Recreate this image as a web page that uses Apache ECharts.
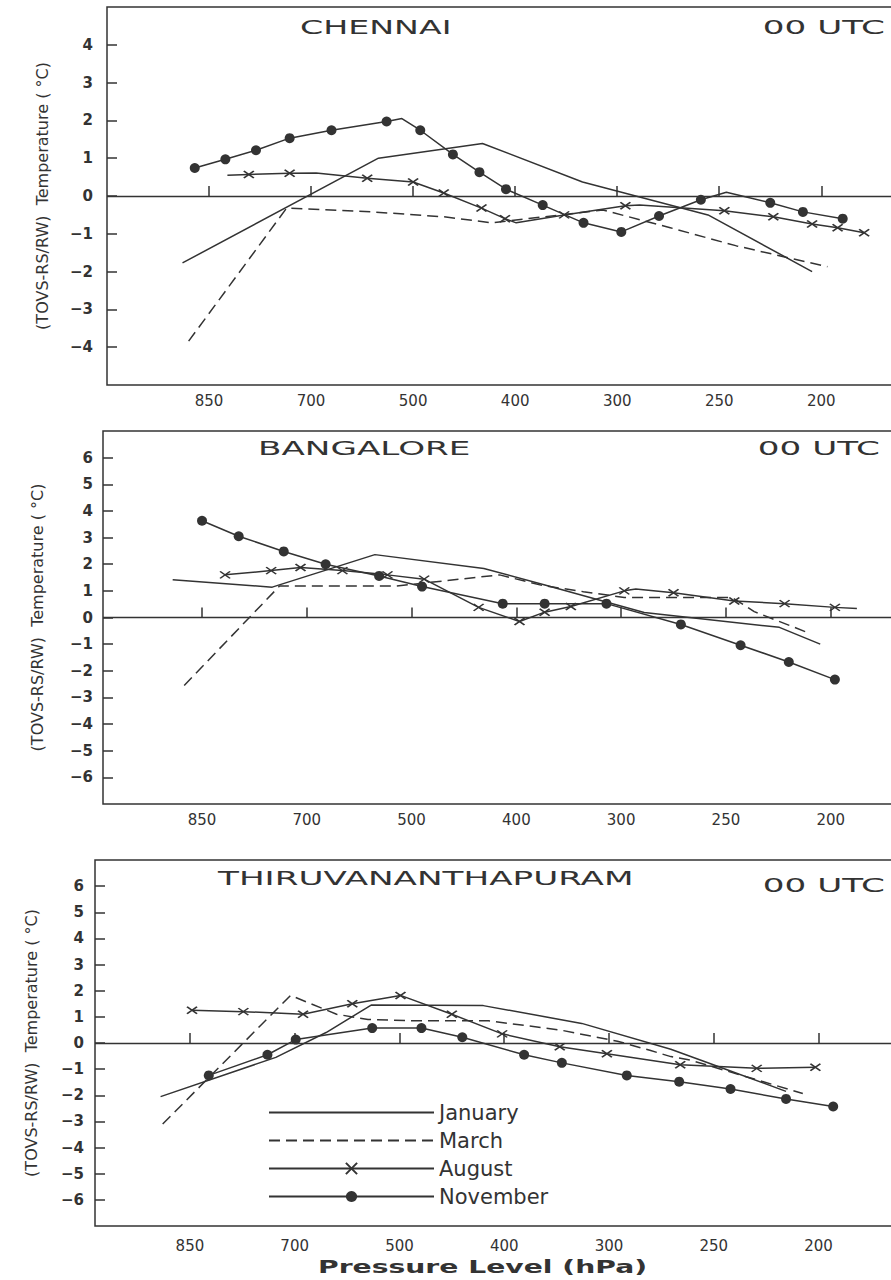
<!DOCTYPE html>
<html><head><meta charset="utf-8">
<script src="https://cdn.jsdelivr.net/npm/echarts@6/dist/echarts.min.js"></script>
<style>html,body{margin:0;padding:0;background:#fff}#c{width:891px;height:1280px}</style>
</head><body><div id="c"></div>
<script>
// ---------- data ----------
const pressureLabels = ['850', '700', '500', '400', '300', '250', '200'];
const pressurePositions = [1, 2, 3, 4, 5, 6, 7];
const months = ['January', 'March', 'August', 'November'];
const stations = ['CHENNAI', 'BANGALORE', 'THIRUVANANTHAPURAM'];
const utcLabel = '00 UTC';
const yAxisTitle = '(TOVS-RS/RW)  Temperature ( °C)';
const xAxisTitle = 'Pressure Level (hPa)';
const yTicksChennai = [-4, -3, -2, -1, 0, 1, 2, 3, 4];
const yTicksOther = [-6, -5, -4, -3, -2, -1, 0, 1, 2, 3, 4, 5, 6];

// [pressure-axis position (850=1 ... 200=7), TOVS - RS/RW (°C), 0 = bend without marker]
const chennaiJanuary = [[0.74,-1.77],[2.66,1.0],[3.68,1.39],[4.66,0.37],[5.89,-0.5],[6.91,-2.0]];
const chennaiMarch = [[0.8,-3.84],[1.76,-0.32],[2.6,-0.42],[3.3,-0.55],[3.77,-0.71],[4.86,-0.37],[5.52,-0.84],[6.17,-1.32],[7.06,-1.87]];
const chennaiAugust = [[1.18,0.55,0],[1.39,0.57],[1.79,0.6],[2.05,0.61,0],[2.55,0.47],[3.0,0.37],[3.3,0.08],[3.67,-0.32],[3.9,-0.6],[4.01,-0.71,0],[4.48,-0.5],[5.08,-0.26],[5.22,-0.24,0],[6.05,-0.39],[6.53,-0.55],[6.91,-0.74],[7.16,-0.84],[7.42,-0.97]];
const chennaiNovember = [[0.86,0.74],[1.16,0.97],[1.46,1.21],[1.79,1.53],[2.2,1.74],[2.74,1.97],[2.89,2.05,0],[3.07,1.74],[3.39,1.1],[3.65,0.63],[3.91,0.18],[4.27,-0.24],[4.67,-0.71],[5.04,-0.95],[5.41,-0.53],[5.82,-0.1],[6.07,0.1,0],[6.5,-0.18],[6.82,-0.42],[7.21,-0.6]];

const bangaloreJanuary = [[0.72,1.42],[1.67,1.14],[2.65,2.36],[3.69,1.84],[4.29,1.2],[5.22,0.19],[6.51,-0.37],[6.9,-1.0]];
const bangaloreMarch = [[0.83,-2.55],[1.74,1.18],[2.85,1.18],[3.84,1.6],[4.25,1.2],[4.64,0.97],[5.03,0.75],[6.06,0.75],[6.27,0.22],[6.77,-0.55]];
const bangaloreAugust = [[1.22,1.6],[1.66,1.76],[1.94,1.88],[2.34,1.76],[2.77,1.6],[3.12,1.44],[3.64,0.38],[4.03,-0.15],[4.27,0.2],[4.52,0.41],[5.03,1.0],[5.14,1.07,0],[5.5,0.93],[6.08,0.62],[6.56,0.52],[7.04,0.38],[7.25,0.34,0]];
const bangaloreNovember = [[1.0,3.63],[1.35,3.05],[1.78,2.48],[2.18,2.0],[2.69,1.56],[3.1,1.16],[3.87,0.52],[4.27,0.52],[4.86,0.52],[5.57,-0.26],[6.14,-1.04],[6.6,-1.67],[7.04,-2.33]];

const thiruJanuary = [[0.72,-2.05],[1.82,-0.55],[2.3,0.4],[2.73,1.45],[3.8,1.43],[4.74,0.75],[5.59,-0.24],[6.14,-1.04],[6.69,-1.85]];
const thiruMarch = [[0.74,-3.1],[1.96,1.82],[2.4,1.1],[2.7,0.9],[3.16,0.85],[3.85,0.85],[4.53,0.5],[5.08,0.07],[5.39,-0.28],[5.59,-0.52],[5.78,-0.66],[6.85,-1.93]];
const thiruAugust = [[1.02,1.25],[1.51,1.2],[2.08,1.1],[2.55,1.5],[3.01,1.82],[3.5,1.1],[3.98,0.35],[4.53,-0.14],[4.98,-0.41],[5.68,-0.83],[6.41,-0.97],[6.97,-0.93]];
const thiruNovember = [[1.18,-1.24],[1.74,-0.45],[2.01,0.13],[2.74,0.57],[3.21,0.57],[3.6,0.22],[4.19,-0.45],[4.55,-0.76],[5.17,-1.24],[5.67,-1.48],[6.16,-1.76],[6.69,-2.14],[7.14,-2.43]];

const stationSeries = [
  [chennaiJanuary, chennaiMarch, chennaiAugust, chennaiNovember],
  [bangaloreJanuary, bangaloreMarch, bangaloreAugust, bangaloreNovember],
  [thiruJanuary, thiruMarch, thiruAugust, thiruNovember]
];

// ---------- layout / style ----------
const INK = '#333';
const FONT = '"DejaVu Sans", sans-serif';
const panels = [
  { left: 107, top: 7,   height: 378, xMin: 0,     xMax: 7.84, yMin: -5, yMax: 5, yTicks: yTicksChennai, labelMargin: 8,  yLabelMargin: 14, nameGap: 57 },
  { left: 103, top: 431, height: 373, xMin: 0.055, xMax: 7.69, yMin: -7, yMax: 7, yTicks: yTicksOther,   labelMargin: 8,  yLabelMargin: 10, nameGap: 58 },
  { left: 95,  top: 860, height: 366, xMin: 0.094, xMax: 7.73, yMin: -7, yMax: 7, yTicks: yTicksOther,   labelMargin: 12, yLabelMargin: 11, nameGap: 56 }
];
const monthStyle = {
  January:  { type: 'solid', symbol: 'none' },
  March:    { type: [11, 6], symbol: 'none' },
  August:   { type: 'solid', symbol: 'path://M0,0L10,7M10,0L0,7', symbolSize: [10, 7] },
  November: { type: 'solid', symbol: 'circle', symbolSize: 10 }
};

const grids = [], xAxes = [], yAxes = [], series = [];
panels.forEach((p, i) => {
  grids.push({ left: p.left, top: p.top, width: 800, height: p.height, show: true,
    borderColor: INK, borderWidth: 1.5, outerBoundsMode: 'none', containLabel: false });
  xAxes.push({
    gridIndex: i, type: 'value', min: p.xMin, max: p.xMax,
    axisLine: { show: false }, splitLine: { show: false },
    axisTick: { show: true, inside: true, length: 10, customValues: pressurePositions, lineStyle: { color: INK, width: 1.5 } },
    axisLabel: { customValues: pressurePositions, margin: p.labelMargin, color: INK, fontSize: 15, fontFamily: FONT,
      formatter: v => pressureLabels[pressurePositions.indexOf(Math.round(v))] },
  });
  yAxes.push({
    gridIndex: i, type: 'value', min: p.yMin, max: p.yMax,
    name: yAxisTitle, nameLocation: 'middle', nameGap: p.nameGap,
    nameTextStyle: { color: INK, fontSize: 16, fontFamily: FONT },
    axisLine: { show: false }, splitLine: { show: false },
    axisTick: { show: true, inside: true, length: 10, customValues: p.yTicks, lineStyle: { color: INK, width: 1.5 } },
    axisLabel: { customValues: p.yTicks, margin: p.yLabelMargin, color: INK, fontSize: 15, fontWeight: 'bold', fontFamily: FONT,
      formatter: v => (v < 0 ? '\u2212' + Math.abs(v) : String(v)) }
  });
  months.forEach((m, k) => {
    const st = monthStyle[m];
    const s = {
      name: m, type: 'line', xAxisIndex: i, yAxisIndex: i,
      symbol: st.symbol, symbolSize: st.symbolSize, showSymbol: st.symbol !== 'none',
      lineStyle: { color: INK, width: 1.5, type: st.type },
      itemStyle: m === 'August' ? { color: INK, borderColor: INK, borderWidth: 1.6 } : { color: INK, borderWidth: 0 },
      data: stationSeries[i][k].map(d => d[2] === 0 ? { value: [d[0], d[1]], symbol: 'none' } : [d[0], d[1]]),
      z: 3
    };
    if (k === 0) {
      s.markLine = { silent: true, symbol: ['none', 'none'], label: { show: false },
        lineStyle: { color: INK, type: 'solid', width: 1.3 }, data: [{ yAxis: 0 }] };
    }
    series.push(s);
  });
});

const titleText = (text, x, y, scaleX, align, weight, size) => ({
  type: 'text', x: x, y: y, scaleX: scaleX, silent: true,
  style: { text: text, fill: INK, fontSize: size || 19, fontFamily: FONT, fontWeight: weight || 'normal',
    align: align || 'left', verticalAlign: 'top' }
});

const option = {
  animation: false,
  backgroundColor: '#fff',
  grid: grids, xAxis: xAxes, yAxis: yAxes, series: series,
  legend: {
    data: months.map(m => monthStyle[m].symbol === 'none'
      ? { name: m, itemStyle: { opacity: 0, color: 'transparent', borderWidth: 0 } }
      : { name: m }),
    orient: 'vertical', left: 263, top: 1097,
    itemWidth: 165, itemHeight: 14, itemGap: 7, selectedMode: false,
    textStyle: { color: INK, fontSize: 21, fontFamily: FONT }
  },
  graphic: [
    titleText(stations[0], 300, 18, 1.75),
    titleText(utcLabel, 885, 18, 1.8, 'right'),
    titleText(stations[1], 258, 439, 1.8),
    titleText(utcLabel, 880, 439, 1.8, 'right'),
    titleText(stations[2], 218, 869, 1.8),
    titleText(utcLabel, 885, 876, 1.8, 'right'),
    titleText(xAxisTitle, 318, 1258, 1.66, 'left', 'bold', 17)
  ]
};

const chart = echarts.init(document.getElementById('c'), null, { renderer: 'svg' });
chart.setOption(option);
</script>
</body></html>
